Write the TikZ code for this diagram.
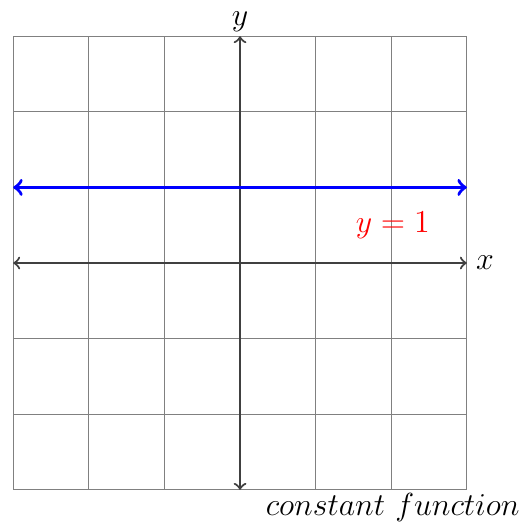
\documentclass[tikz,border=0pt]{standalone}
\usepackage{amsmath, amssymb}
\usepackage{tikz}
\usetikzlibrary{arrows,positioning}

\begin{document}
\begin{tikzpicture}[
    gridline/.style={gray, thin},
    axis/.style={<->, >=to, thick, black!75},
    graphline/.style={<->, >=to, blue, line width=1.3pt},
    lbl/.style={font=\large}
]
\useasboundingbox (-3.175,-3.452) rectangle (3.73,3.479);

% Grid
\draw[gridline] (-3,-3) grid (3,3);

% Axes
\coordinate (xl) at (-3,0);
\coordinate (xr) at (3,0);
\coordinate (yb) at (0,-3);
\coordinate (yt) at (0,3);
\draw[axis] (xl) -- (xr);
\draw[axis] (yb) -- (yt);
\node[lbl, right=0pt of xr] (xlabel) {$x$};
\node[lbl, above=-2pt of yt] (ylabel) {$y$};

% Constant function y = 1
\coordinate (fl) at (-3,1);
\coordinate (fr) at (3,1);
\draw[graphline] (fl) -- (fr);
\node[lbl, text=red] (flabel) at (2.02,0.5) {$y=1$};

% Caption
\node[lbl] (caption) at (2.02,-3.23) {$constant\ function$};

\end{tikzpicture}
\end{document}
